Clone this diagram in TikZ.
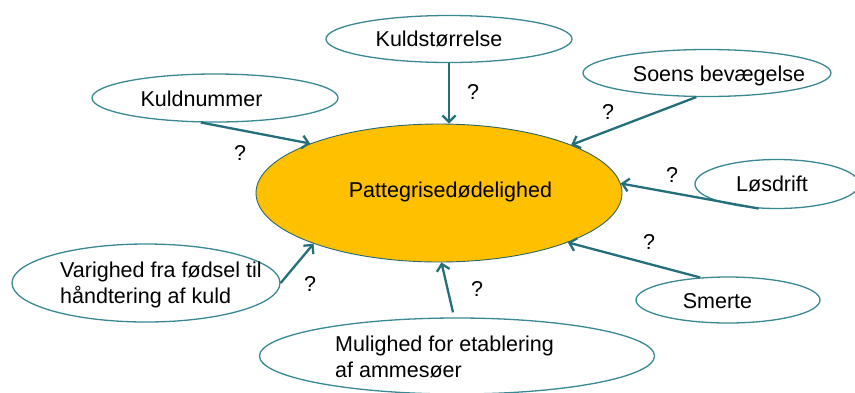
\documentclass[tikz,border=0pt]{standalone}
\usepackage{fontspec}
\setmainfont{Liberation Sans}
\usetikzlibrary{shapes.geometric,arrows.meta}
\definecolor{teal1}{HTML}{246F7A}
\definecolor{teal2}{HTML}{3A8892}
\definecolor{gold}{HTML}{FFC000}
\tikzset{
  bub/.style={ellipse, draw=teal2, line width=1.3pt, fill=white, inner sep=0pt},
  core/.style={ellipse, draw=teal2!75!black, line width=0.9pt, fill=gold, inner sep=0pt},
  txt/.style={inner sep=0pt, font=\fontsize{21.5}{25.5}\selectfont, text=black},
  qm/.style={inner sep=0pt, font=\fontsize{21.5}{25}\selectfont, text=black},
  link/.style={draw=teal1, line width=2.3pt, -{Straight Barb[length=6.5pt,width=13pt,line width=2.3pt]}}
}
\begin{document}
\begin{tikzpicture}[x=1pt,y=-1pt]
\useasboundingbox (0,0) rectangle (855,392);
\clip (0,0) rectangle (855,392);
\fill[white] (0,0) rectangle (855,392);
% ellipses
\node[core, minimum width=366pt, minimum height=138pt] (c) at (439,193) {};
\node[bub, minimum width=246pt, minimum height=47pt] (ks) at (449,39) {};
\node[bub, minimum width=246pt, minimum height=48pt] (kn) at (215,98) {};
\node[bub, minimum width=248pt, minimum height=47pt] (sb) at (707,73) {};
\node[bub, minimum width=164pt, minimum height=49pt] (ld) at (777,184) {};
\node[bub, minimum width=184pt, minimum height=46pt] (sm) at (728,300) {};
\node[bub, minimum width=395pt, minimum height=76pt] (mu) at (457,356) {};
\node[bub, minimum width=268pt, minimum height=78pt] (va) at (146,283) {};
% texts
\node[txt, anchor=base] (ct) at (450.5,197) {Pattegrisedødelighed};
\node[txt, anchor=base] (kst) at (439,46.5) {Kuldstørrelse};
\node[txt, anchor=base] (knt) at (201.5,106) {Kuldnummer};
\node[txt, anchor=base] (sbt) at (719,81) {Soens bevægelse};
\node[txt, anchor=base] (ldt) at (772,191) {Løsdrift};
\node[txt, anchor=base] (smt) at (717.5,308) {Smerte};
\node[txt, anchor=west, align=left] (mut) at (335,357) {Mulighed for etablering\\af ammesøer};
\node[txt, anchor=west, align=left] (vat) at (60,285) {Varighed fra fødsel til\\håndtering af kuld};
% arrows
\draw[link] (kn.-120) -- (c.159);
\draw[link] (ks.south) -- (ks.south |- c.north);
\draw[link] (sb.-114) -- (c.20);
\draw[link] (ld.-127) -- (c.3);
\draw[link] (sm.141) -- (c.-21);
\draw[link] ([shift={(-4,-5)}]mu.north) -- (c.-88);
\draw[link] (va.east) -- (c.-158);
% question marks
\node[qm] (q1) at (240,153) {?};
\node[qm] (q2) at (473,92) {?};
\node[qm] (q3) at (608,112) {?};
\node[qm] (q4) at (672,175) {?};
\node[qm] (q5) at (649,242) {?};
\node[qm] (q6) at (477,289) {?};
\node[qm] (q7) at (310,284) {?};
\end{tikzpicture}
\end{document}
